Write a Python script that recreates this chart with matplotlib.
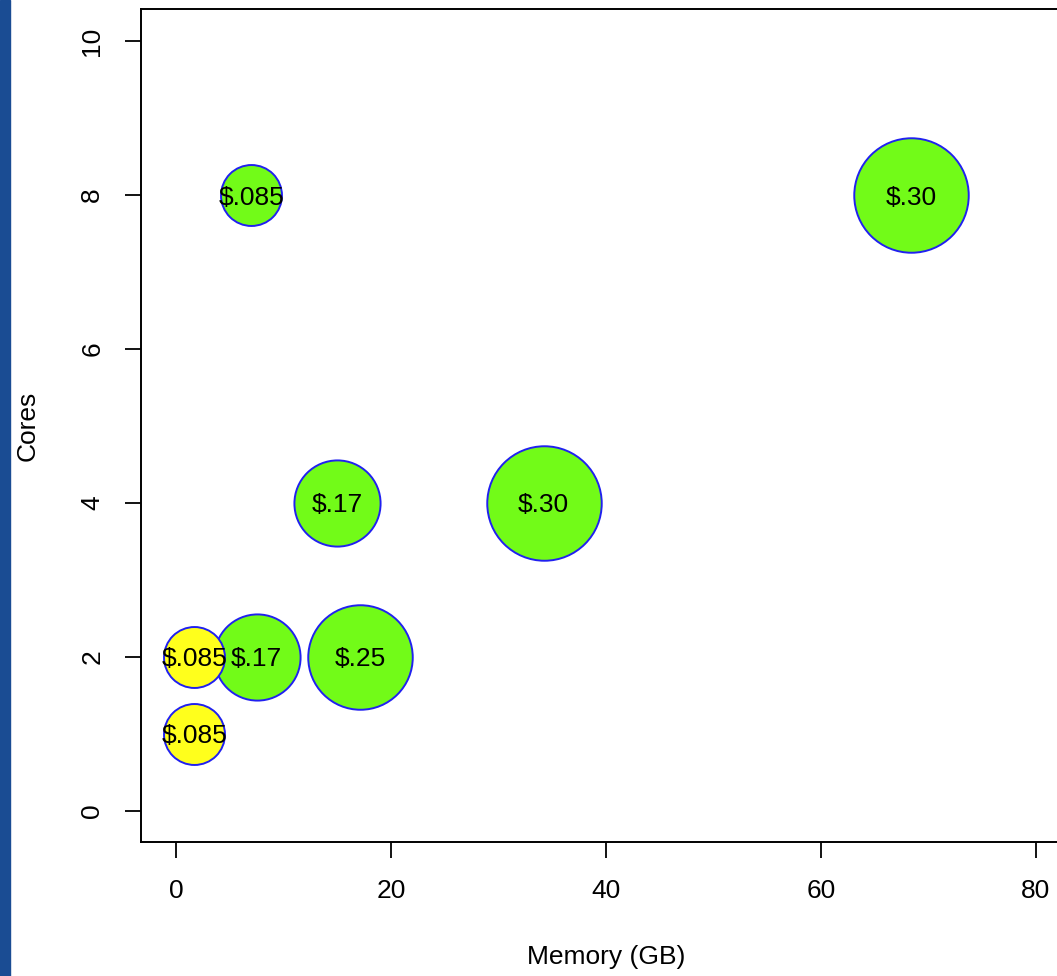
import matplotlib
matplotlib.use("Agg")
import matplotlib.pyplot as plt
from matplotlib.patches import Rectangle
import numpy as np

# instance types: memory (GB), cores, hourly price
memory = [68.4, 34.2, 17.1, 15.0, 7.5, 7.0, 1.7, 1.7]
cores = [8, 4, 2, 4, 2, 8, 2, 1]
price = [0.30, 0.30, 0.25, 0.17, 0.17, 0.085, 0.085, 0.085]
labels = ["$.30", "$.30", "$.25", "$.17", "$.17", "$.085", "$.085", "$.085"]
fills = ["#72FB18", "#72FB18", "#72FB18", "#72FB18", "#72FB18", "#72FB18", "#FFFF1C", "#FFFF1C"]

plt.rcParams["font.family"] = ["Liberation Sans", "DejaVu Sans"]

W, H = 1057, 976
fig = plt.figure(figsize=(W / 100, H / 100), dpi=100)
ax = fig.add_axes([141 / W, (H - 842) / H, (1071 - 141) / W, (842 - 9) / H])

# blue strip along the left edge
fig.patches.append(Rectangle((0, 0), 10 / W, 1, transform=fig.transFigure,
                             color="#1A4C93", zorder=0))

# circle radius grows with sqrt(price), like R's symbols(circles=sqrt(price))
radius_px = 104.5 * np.sqrt(np.array(price))
sizes = (2 * radius_px * 72 / 100) ** 2

for xm, yc, s, c in zip(memory, cores, sizes, fills):
    ax.scatter(xm, yc, s=s, c=c, edgecolors="#2020F0", linewidths=1.4,
               zorder=2, clip_on=False)
for xm, yc, lab in zip(memory, cores, labels):
    ax.text(xm, yc, lab, ha="center", va="center_baseline", fontsize=19, zorder=3)

ax.set_xlim(-3.26, 83.26)
ax.set_ylim(-0.403, 10.416)
ax.set_xticks([0, 20, 40, 60, 80])
ax.set_yticks([0, 2, 4, 6, 8, 10])
ax.tick_params(axis="both", length=11.5, width=1.3, labelsize=19, pad=15)
for lab in ax.get_yticklabels():
    lab.set_rotation(90)
    lab.set_va("center")
for sp in ax.spines.values():
    sp.set_linewidth(1.4)

ax.set_xlabel("Memory (GB)", fontsize=19, va="center")
ax.xaxis.set_label_coords(0.5, (842 - 957) / 833)
ax.set_ylabel("Cores", fontsize=19, ha="center", va="center")
ax.yaxis.set_label_coords((28 - 141) / 930, 0.5)

fig.savefig("out.png", dpi=100)
